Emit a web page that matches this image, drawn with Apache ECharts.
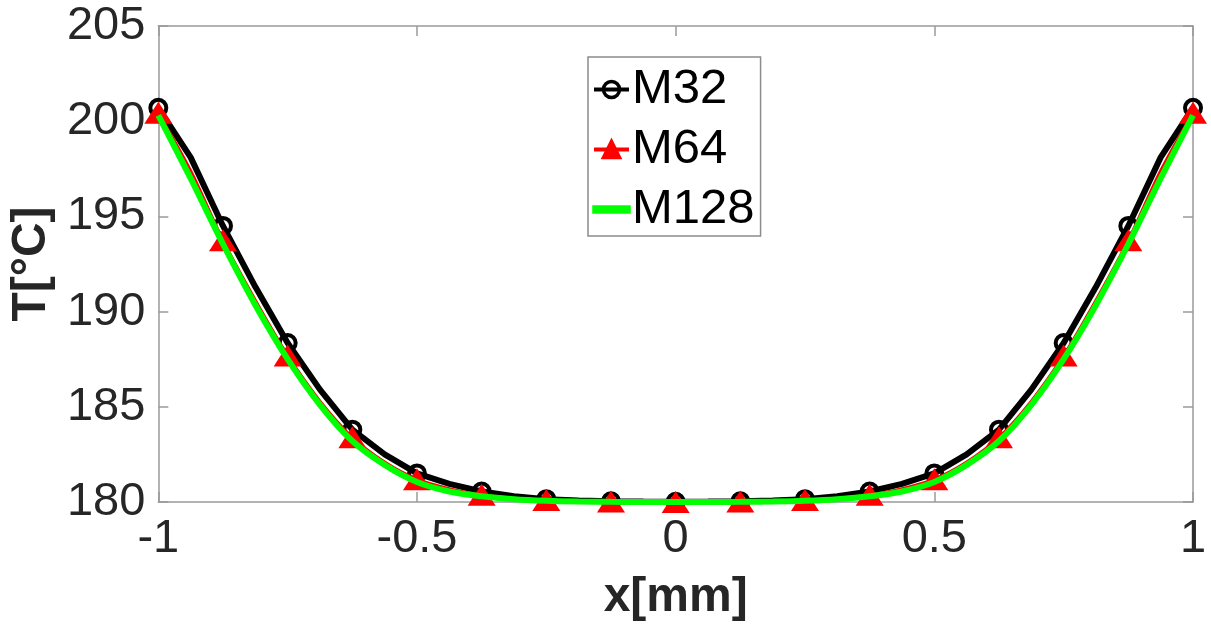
<!DOCTYPE html>
<html>
<head>
<meta charset="utf-8">
<script src="https://cdn.jsdelivr.net/npm/echarts@6/dist/echarts.min.js"></script>
<style>
  html, body { margin: 0; padding: 0; background: #ffffff; }
  #chart { width: 1211px; height: 628px; }
</style>
</head>
<body>
<div id="chart"></div>
<script>
// Node positions along the plate thickness [mm]
const xNodes = [
  -1, -0.9375, -0.875, -0.8125, -0.75, -0.6875, -0.625, -0.5625, -0.5,
  -0.4375, -0.375, -0.3125, -0.25, -0.1875, -0.125, -0.0625, 0,
  0.0625, 0.125, 0.1875, 0.25, 0.3125, 0.375, 0.4375, 0.5,
  0.5625, 0.625, 0.6875, 0.75, 0.8125, 0.875, 0.9375, 1
];

// Temperature profiles [°C] for the three meshes
const tempM32 = [
  200.7, 198.1, 194.5, 191.3, 188.35, 185.9, 183.8, 182.5, 181.5,
  180.95, 180.55, 180.3, 180.15, 180.08, 180.04, 180.02, 180.01,
  180.02, 180.04, 180.08, 180.15, 180.3, 180.55, 180.95, 181.5,
  182.5, 183.8, 185.9, 188.35, 191.3, 194.5, 198.1, 200.7
];
const tempM64 = [
  200.45, 197.4, 193.75, 190.6, 187.7, 185.3, 183.4, 182.1, 181.2,
  180.7, 180.38, 180.2, 180.1, 180.05, 180.02, 180.01, 180.0,
  180.01, 180.02, 180.05, 180.1, 180.2, 180.38, 180.7, 181.2,
  182.1, 183.4, 185.3, 187.7, 190.6, 193.75, 197.4, 200.45
];
const tempM128 = [
  200.3, 197.0, 193.55, 190.35, 187.5, 185.1, 183.2, 181.95, 181.05,
  180.55, 180.3, 180.15, 180.07, 180.03, 180.01, 180.0, 180.0,
  180.0, 180.01, 180.03, 180.07, 180.15, 180.3, 180.55, 181.05,
  181.95, 183.2, 185.1, 187.5, 190.35, 193.55, 197.0, 200.3
];

const seriesNames = ['M32', 'M64', 'M128'];
const xTicks = { min: -1, max: 1, step: 0.5 };
const yTicks = { min: 180, max: 205, step: 5 };

// Markers sit on every second node only
const pairs = (ys, marked) => xNodes.map((x, i) =>
  (marked && i % 2 === 0) ? { value: [x, ys[i]] } : { value: [x, ys[i]], symbol: 'none' });

const axisGrey = '#9a9a9a';
const labelColor = '#262626';
const fontFamily = '"Liberation Sans", Arial, Helvetica, sans-serif';

const chart = echarts.init(document.getElementById('chart'), null, { renderer: 'canvas' });

const plainAxis = () => ({
  axisLine: { show: true, onZero: false, lineStyle: { color: axisGrey, width: 1.5 } },
  axisTick: { show: true, inside: true, length: 10, lineStyle: { color: axisGrey, width: 1.5 } },
  splitLine: { show: false }
});

chart.setOption({
  animation: false,
  backgroundColor: '#ffffff',
  grid: { left: 155, top: 26, width: 1038, height: 476, containLabel: false },
  xAxis: [
    Object.assign(plainAxis(), {
      type: 'value', position: 'bottom',
      min: xTicks.min, max: xTicks.max, interval: xTicks.step,
      name: 'x[mm]', nameLocation: 'middle', nameGap: 72,
      nameTextStyle: { fontFamily, fontSize: 48, fontWeight: 'bold', color: labelColor },
      axisLabel: { fontFamily, fontSize: 47, color: labelColor, margin: 14 }
    }),
    Object.assign(plainAxis(), {
      type: 'value', position: 'top',
      min: xTicks.min, max: xTicks.max, interval: xTicks.step,
      axisLabel: { show: false }
    })
  ],
  yAxis: [
    Object.assign(plainAxis(), {
      type: 'value', position: 'left',
      min: yTicks.min, max: yTicks.max, interval: yTicks.step,
      name: 'T[°C]', nameLocation: 'middle', nameGap: 98, nameRotate: 90,
      nameTextStyle: { fontFamily, fontSize: 48, fontWeight: 'bold', color: labelColor },
      axisLabel: { fontFamily, fontSize: 47, color: labelColor, margin: 13 }
    }),
    Object.assign(plainAxis(), {
      type: 'value', position: 'right',
      min: yTicks.min, max: yTicks.max, interval: yTicks.step,
      axisLabel: { show: false }
    })
  ],
  legend: {
    data: [
      { name: seriesNames[0] },
      { name: seriesNames[1] },
      { name: seriesNames[2], icon: 'path://M0,0 L35,0 L35,5 L0,5 Z' }
    ],
    orient: 'vertical',
    left: 588, top: 57,
    width: 173,
    padding: [8, 6, 2, 4],
    itemGap: 11,
    itemWidth: 35,
    itemHeight: 20,
    symbolKeepAspect: true,
    backgroundColor: '#ffffff',
    borderColor: '#8c8c8c',
    borderWidth: 1.5,
    lineStyle: { width: 4 },
    itemStyle: { borderWidth: 3.5 },
    textStyle: { fontFamily, fontSize: 49, color: '#000000', padding: [0, 0, 0, -2] }
  },
  series: [
    {
      name: 'M32', type: 'line', data: pairs(tempM32, true), z: 2, clip: false,
      lineStyle: { color: '#000000', width: 6 },
      symbol: 'circle', symbolSize: 16, showAllSymbol: true,
      itemStyle: { color: 'rgba(255,255,255,0)', borderColor: '#000000', borderWidth: 4 }
    },
    {
      name: 'M64', type: 'line', data: pairs(tempM64, true), z: 3, clip: false,
      smooth: 0.3,
      lineStyle: { color: '#ff0000', width: 3 },
      symbol: 'triangle', symbolSize: [28, 22], showAllSymbol: true,
      itemStyle: { color: '#ff0000', borderColor: '#ff0000', borderWidth: 0 }
    },
    {
      name: 'M128', type: 'line', data: pairs(tempM128, false), z: 4, clip: false,
      smooth: 0.3,
      lineStyle: { color: '#00ff00', width: 6 },
      symbol: 'none', showSymbol: false,
      itemStyle: { color: '#00ff00', borderColor: '#00ff00' }
    }
  ]
});
</script>
</body>
</html>
